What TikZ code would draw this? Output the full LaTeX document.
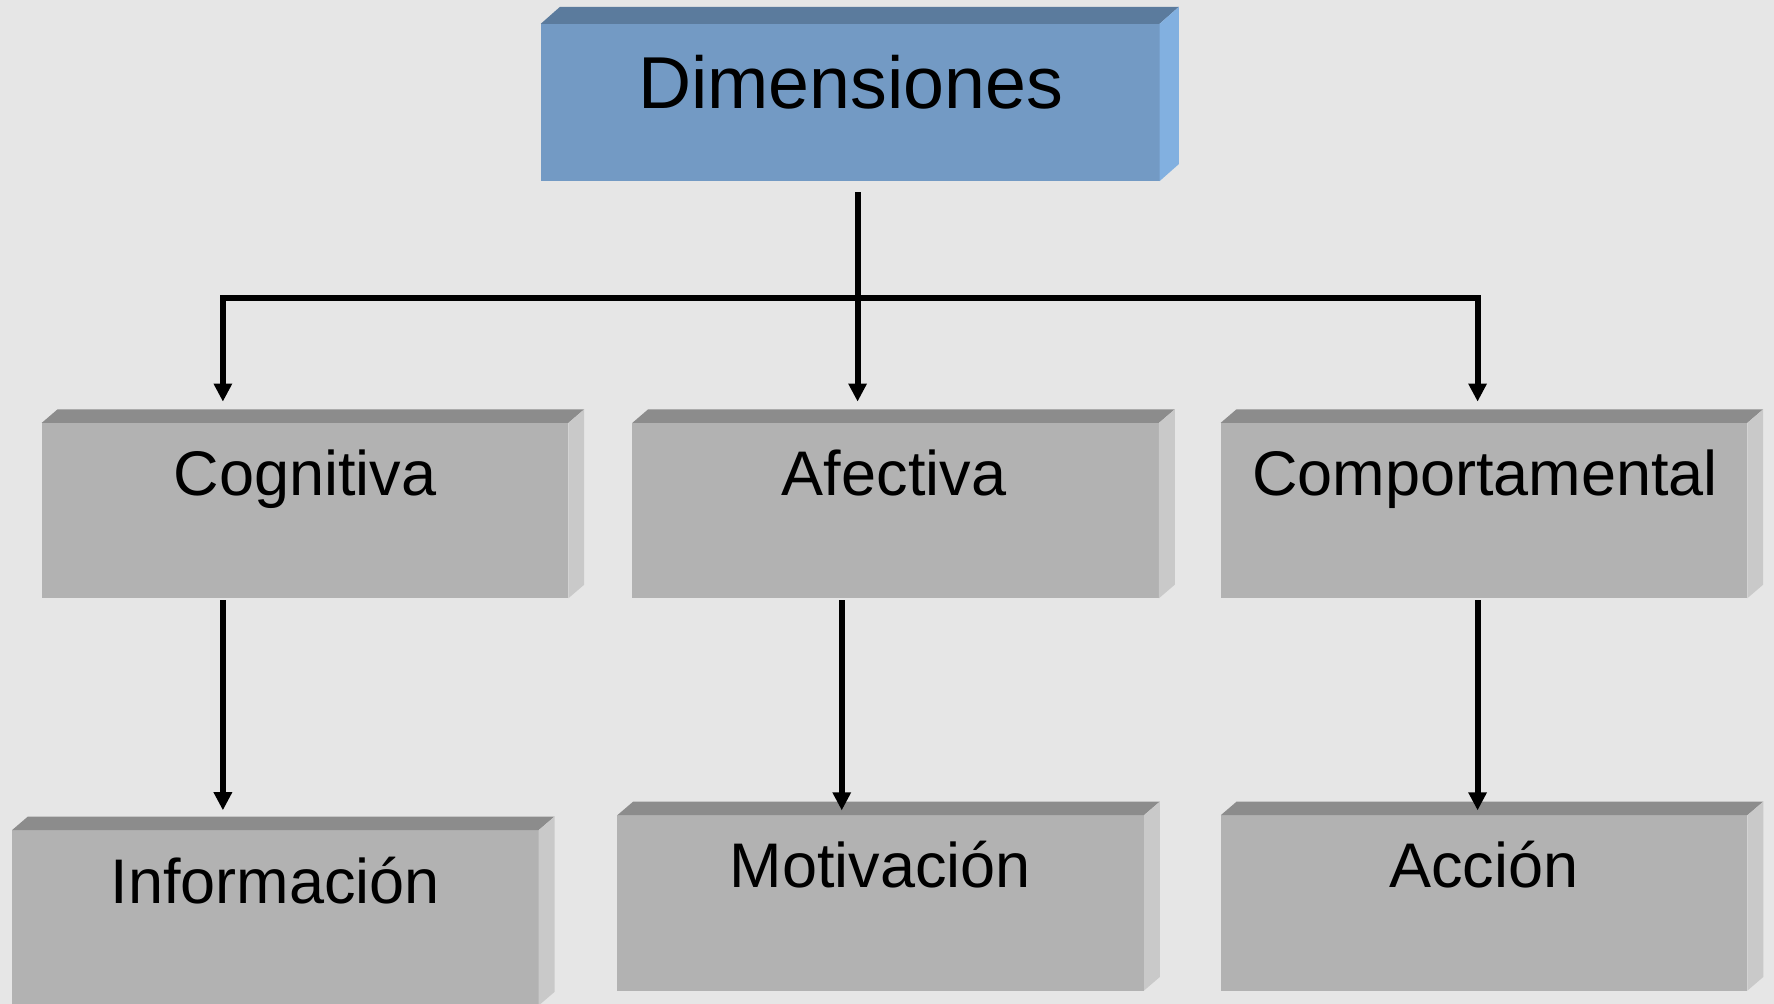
\documentclass[tikz,border=0pt]{standalone}
\usepackage{fontspec}
\setmainfont{Liberation Sans}
\usetikzlibrary{arrows.meta}
\definecolor{bg}{HTML}{E6E6E6}
\definecolor{bluefront}{HTML}{739AC4}
\definecolor{bluetop}{HTML}{5B7B9D}
\definecolor{blueside}{HTML}{82B0E0}
\definecolor{grayfront}{HTML}{B2B2B2}
\definecolor{graytop}{HTML}{8C8C8C}
\definecolor{grayside}{HTML}{C9C9C9}
\newcommand\bevelfaces[5]{%
  \fill[#4] (#1.north west) -- ++(#2,-#3) -- ([xshift=#2pt,yshift=#3pt]#1.north east) -- (#1.north east) -- cycle;
  \fill[#5] (#1.north east) -- ++(#2,-#3) -- ([xshift=#2pt,yshift=#3pt]#1.south east) -- (#1.south east) -- cycle;}
\begin{document}
\begin{tikzpicture}[x=1pt,y=-1pt,
  front/.style={rectangle, inner sep=0pt, outer sep=0pt},
  bluebox/.style={front, fill=bluefront},
  graybox/.style={front, fill=grayfront, minimum width=465.5pt, minimum height=155pt},
  lbl/.style={anchor=base, inner sep=0pt, font=\fontsize{55.7}{60}\selectfont},
  biglbl/.style={anchor=base, inner sep=0pt, font=\fontsize{65}{70}\selectfont},
  conn/.style={line width=5.3pt, draw=black},
  arr/.style={conn, -{Triangle[width=15.5pt,length=16pt]}}]
\useasboundingbox (0,0) rectangle (1568,887);
\clip (0,0) rectangle (1568,887);
\fill[bg] (0,0) rectangle (1568,887);
% boxes
\node[bluebox, minimum width=547pt, minimum height=139pt] (dim) at (751.5,90.5) {};
\bevelfaces{dim}{17}{15}{bluetop}{blueside}
\node[graybox] (cog) at (269.6,451.3) {};
\bevelfaces{cog}{14}{12}{graytop}{grayside}
\node[graybox] (afe) at (791.6,451.3) {};
\bevelfaces{afe}{14}{12}{graytop}{grayside}
\node[graybox] (com) at (1311.6,451.3) {};
\bevelfaces{com}{14}{12}{graytop}{grayside}
\node[graybox] (inf) at (243.4,811.2) {};
\bevelfaces{inf}{14}{12}{graytop}{grayside}
\node[graybox] (mot) at (778.4,798.0) {};
\bevelfaces{mot}{14}{12}{graytop}{grayside}
\node[graybox] (acc) at (1311.8,798.0) {};
\bevelfaces{acc}{14}{12}{graytop}{grayside}
% labels
\node[biglbl] (dimt) at (752,95.7) {Dimensiones};
\node[lbl] (cogt) at (269.5,438.2) {Cognitiva};
\node[lbl] (afet) at (790.2,438.2) {Afectiva};
\node[lbl] (comt) at (1312.5,438.2) {Comportamental};
\node[lbl] (inft) at (243.4,798.6) {Información};
\node[lbl] (mott) at (778,784.5) {Motivación};
\node[lbl] (acct) at (1311.6,784.5) {Acción};
% connectors
\coordinate (hL) at (197,263);
\coordinate (hR) at (1306,263);
\coordinate (s0) at (758,170);
\coordinate (xm) at (744,0);
\draw[conn, line cap=rect] (hL) -- (hR);
\draw[arr] (s0) -- ([yshift=18.8pt]afe.north -| s0);
\draw[arr] (hL) -- ([yshift=18.8pt]cog.north -| hL);
\draw[arr] (hR) -- ([yshift=18.8pt]com.north -| hR);
\draw[arr] ([yshift=-1.7pt]cog.south -| hL) -- ([yshift=17.5pt]inf.north -| hL);
\draw[arr] ([yshift=-1.7pt]afe.south -| xm) -- ([yshift=4.2pt]mot.north -| xm);
\draw[arr] ([yshift=-1.7pt]com.south -| hR) -- ([yshift=4.2pt]acc.north -| hR);
\end{tikzpicture}
\end{document}
